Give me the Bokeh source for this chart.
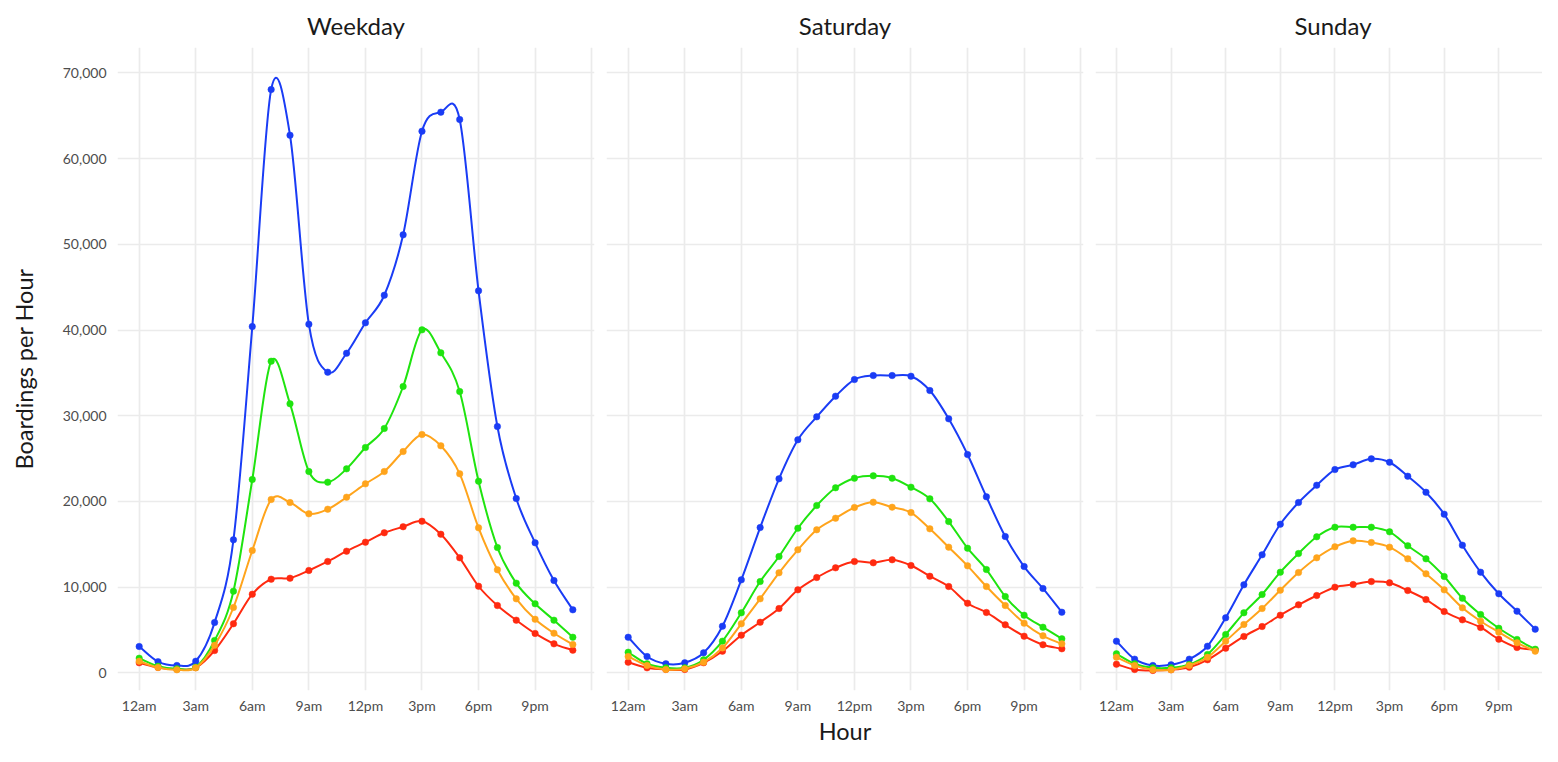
from bokeh.plotting import figure
from bokeh.layouts import row
from bokeh.models import Range1d, FixedTicker, NumeralTickFormatter, ColumnDataSource
from bokeh.embed import file_html
from bokeh.resources import INLINE

# ---------------- data ----------------
hours = list(range(24))
hour_ticks = [0, 3, 6, 9, 12, 15, 18, 21]
hour_labels = ["12am", "3am", "6am", "9am", "12pm", "3pm", "6pm", "9pm"]
grid_hours = [0, 3, 6, 9, 12, 15, 18, 21, 24]
y_ticks = [0, 10000, 20000, 30000, 40000, 50000, 60000, 70000]
panels = ["Weekday", "Saturday", "Sunday"]

weekday_blue = [3070, 1300, 850, 1350, 5870, 15520, 40400, 68060, 62730, 40680, 35080, 37290,
                40840, 44060, 51110, 63200, 65420, 64560, 44570, 28740, 20340, 15170, 10770, 7350]
weekday_green = [1700, 770, 470, 650, 3770, 9520, 22560, 36360, 31390, 23490, 22240, 23800,
                 26290, 28510, 33410, 40020, 37340, 32820, 22360, 14620, 10460, 8050, 6140, 4150]
weekday_orange = [1350, 620, 350, 580, 3200, 7620, 14270, 20220, 19870, 18550, 19090, 20490,
                  22050, 23490, 25820, 27810, 26490, 23220, 16920, 12020, 8630, 6250, 4620, 3300]
weekday_red = [1170, 620, 400, 600, 2600, 5720, 9170, 10920, 11040, 11940, 12990, 14190,
               15240, 16340, 17040, 17690, 16170, 13420, 10100, 7850, 6140, 4590, 3380, 2640]

saturday_blue = [4150, 1900, 1050, 1170, 2330, 5440, 10850, 16950, 22640, 27190, 29870, 32280,
                 34220, 34690, 34690, 34610, 32940, 29640, 25470, 20540, 15900, 12400, 9840, 7070]
saturday_green = [2400, 1050, 580, 580, 1520, 3690, 7000, 10650, 13570, 16870, 19520, 21590,
                  22710, 22990, 22710, 21660, 20300, 17650, 14540, 12050, 8900, 6720, 5320, 3970]
saturday_orange = [1900, 850, 390, 470, 1240, 2900, 5720, 8630, 11670, 14350, 16690, 18040,
                   19290, 19910, 19320, 18700, 16800, 14660, 12480, 10070, 7850, 5790, 4320, 3380]
saturday_red = [1240, 580, 390, 390, 1170, 2520, 4390, 5900, 7500, 9680, 11120, 12250,
                12990, 12840, 13190, 12520, 11270, 10070, 8120, 7040, 5600, 4270, 3270, 2800]

sunday_blue = [3690, 1590, 850, 930, 1590, 3100, 6420, 10270, 13770, 17340, 19870, 21890,
               23720, 24270, 24970, 24570, 22940, 21070, 18510, 14890, 11740, 9220, 7190, 5090]
sunday_green = [2220, 1050, 580, 580, 970, 2140, 4470, 7000, 9140, 11740, 13920, 15870,
                16990, 16990, 16990, 16450, 14820, 13300, 11240, 8700, 6800, 5200, 3890, 2750]
sunday_orange = [1820, 850, 350, 350, 850, 1800, 3690, 5640, 7500, 9640, 11700, 13420,
                 14700, 15400, 15200, 14660, 13300, 11550, 9680, 7580, 6020, 4740, 3500, 2520]
sunday_red = [1000, 390, 270, 350, 650, 1520, 2870, 4240, 5400, 6720, 7930, 9020,
              9990, 10300, 10650, 10500, 9600, 8550, 7150, 6180, 5290, 3920, 2950, 2680]

series_colors = {"blue": "#1a3cf5", "red": "#ff2a10", "green": "#1fe40f", "orange": "#ffa41c"}
draw_order = ["blue", "red", "green", "orange"]

panel_data = {
    "Weekday": {"blue": weekday_blue, "green": weekday_green, "orange": weekday_orange, "red": weekday_red},
    "Saturday": {"blue": saturday_blue, "green": saturday_green, "orange": saturday_orange, "red": saturday_red},
    "Sunday": {"blue": sunday_blue, "green": sunday_green, "orange": sunday_orange, "red": sunday_red},
}

FONT = "Lato"


def curve_source(xs, ys):
    """Bezier segments (Catmull-Rom control points) passing through the data points."""
    n = len(xs)
    m = []
    for i in range(n):
        if i == 0:
            m.append(ys[1] - ys[0])
        elif i == n - 1:
            m.append(ys[n - 1] - ys[n - 2])
        else:
            m.append((ys[i + 1] - ys[i - 1]) / 2.0)
    d = dict(x0=[], y0=[], x1=[], y1=[], cx0=[], cy0=[], cx1=[], cy1=[])
    for i in range(n - 1):
        d["x0"].append(xs[i]); d["y0"].append(ys[i])
        d["x1"].append(xs[i + 1]); d["y1"].append(ys[i + 1])
        d["cx0"].append(xs[i] + 1 / 3.0); d["cy0"].append(ys[i] + m[i] / 3.0)
        d["cx1"].append(xs[i + 1] - 1 / 3.0); d["cy1"].append(ys[i + 1] - m[i + 1] / 3.0)
    return ColumnDataSource(d)


def make_panel(name, idx):
    left = 117 if idx == 0 else 6
    right = 6 if idx < 2 else 0
    fw = 477 if idx < 2 else 447
    xend = 24.15 if idx < 2 else 23.4
    p = figure(frame_width=fw, frame_height=643,
               min_border_left=left, min_border_right=right,
               min_border_top=47, min_border_bottom=56,
               x_range=Range1d(-1.15, xend), y_range=Range1d(-2066, 72970),
               output_backend="svg", toolbar_location=None, title=name)
    p.outline_line_color = None
    p.background_fill_color = "white"
    p.border_fill_color = "white"

    p.title.text_font = FONT
    p.title.text_font_size = "24px"
    p.title.text_font_style = "normal"
    p.title.text_color = "#1a1a1a"
    p.title.standoff = 16
    if idx == 2:
        p.title.align = "left"
        p.title.offset = 199
    else:
        p.title.align = "center"

    for ax in (p.xaxis[0], p.yaxis[0]):
        ax.axis_line_color = None
        ax.major_tick_line_color = None
        ax.minor_tick_line_color = None
        ax.major_label_text_font = FONT
        ax.major_label_text_font_size = "14px"
        ax.major_label_text_color = "#4d4d4d"
        ax.axis_label_text_font = FONT
        ax.axis_label_text_font_size = "23.5px"
        ax.axis_label_text_font_style = "normal"
        ax.axis_label_text_color = "#1a1a1a"

    p.xaxis.ticker = FixedTicker(ticks=hour_ticks)
    p.xaxis.major_label_overrides = {t: l for t, l in zip(hour_ticks, hour_labels)}
    p.xaxis.major_label_standoff = 0
    p.xgrid.ticker = FixedTicker(ticks=grid_hours)
    p.yaxis.ticker = FixedTicker(ticks=y_ticks)
    p.yaxis.formatter = NumeralTickFormatter(format="0,0")
    p.yaxis.major_label_standoff = 5

    for g in (p.xgrid[0], p.ygrid[0]):
        g.grid_line_color = "#ebebeb"
        g.grid_line_width = 1.7
        g.minor_grid_line_color = None

    if idx == 0:
        p.yaxis.axis_label = "Boardings per Hour"
        p.yaxis.axis_label_standoff = 22
    else:
        p.yaxis.visible = False
    if idx == 1:
        p.xaxis.axis_label = "Hour"
        p.xaxis.axis_label_standoff = 0

    for key in draw_order:
        vals = panel_data[name][key]
        col = series_colors[key]
        src = curve_source(hours, vals)
        p.bezier(x0="x0", y0="y0", x1="x1", y1="y1", cx0="cx0", cy0="cy0",
                 cx1="cx1", cy1="cy1", source=src, line_color=col, line_width=2)
        p.scatter(hours, vals, size=6.5, fill_color=col, line_color=col, line_width=0.5)
    return p


figs = [make_panel(n, i) for i, n in enumerate(panels)]
layout = row(*figs)
open("out.html", "w").write(file_html(layout, INLINE))
